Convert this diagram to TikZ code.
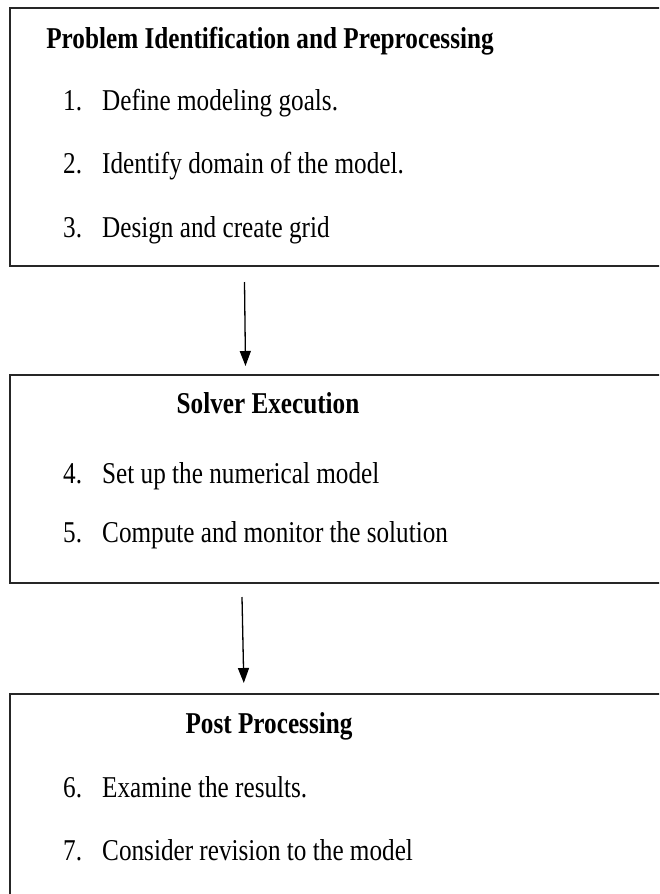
\documentclass[tikz,border=0pt]{standalone}
\usepackage{fontspec}
\setmainfont{Liberation Serif}
\usetikzlibrary{arrows.meta}
\newcommand{\tallt}[1]{\scalebox{1}[1.2]{#1}}
\begin{document}
\begin{tikzpicture}[x=1pt,y=-1pt,
  stagebox/.style={draw=black!85,line width=1.8pt,rectangle,inner sep=0pt,anchor=north west},
  titletext/.style={font=\fontsize{25.2}{30}\selectfont\bfseries,anchor=base,inner sep=0pt},
  itemnum/.style={font=\fontsize{25.2}{30}\selectfont,anchor=base west,inner sep=0pt},
  itemtext/.style={font=\fontsize{25.2}{30}\selectfont,anchor=base west,inner sep=0pt},
  arr/.style={line width=1.3pt,-{Triangle[width=11pt,length=15pt]}}]
\useasboundingbox (0,0) rectangle (659,894);
\clip (0,0) rectangle (659,894);
% boxes
\node[stagebox,minimum width=670pt,minimum height=258pt] (b1) at (9,7) {};
\node[stagebox,minimum width=670pt,minimum height=208pt] (b2) at (9,374) {};
\node[stagebox,minimum width=670pt,minimum height=230pt] (b3) at (9,693) {};
% box 1
\node[titletext] (t1) at (270,48) {\tallt{Problem Identification and Preprocessing}};
\node[itemnum] (n1) at (63,110) {\tallt{1.}};
\node[itemtext] (i1) at (102,110) {\tallt{Define modeling goals.}};
\node[itemnum] (n2) at (63,173) {\tallt{2.}};
\node[itemtext] (i2) at (102,173) {\tallt{Identify domain of the model.}};
\node[itemnum] (n3) at (63,237) {\tallt{3.}};
\node[itemtext] (i3) at (102,237) {\tallt{Design and create grid}};
% box 2
\node[titletext] (t2) at (268,413) {\tallt{Solver Execution}};
\node[itemnum] (n4) at (63,483) {\tallt{4.}};
\node[itemtext] (i4) at (102,483) {\tallt{Set up the numerical model}};
\node[itemnum] (n5) at (63,542) {\tallt{5.}};
\node[itemtext] (i5) at (102,542) {\tallt{Compute and monitor the solution}};
% box 3
\node[titletext] (t3) at (269,733) {\tallt{Post Processing}};
\node[itemnum] (n6) at (63,797) {\tallt{6.}};
\node[itemtext] (i6) at (102,797) {\tallt{Examine the results.}};
\node[itemnum] (n7) at (63,860) {\tallt{7.}};
\node[itemtext] (i7) at (102,860) {\tallt{Consider revision to the model}};
% arrows
\coordinate (a1s) at (244.5,282);
\coordinate (a1e) at (245.5,366);
\coordinate (a2s) at (242,597);
\coordinate (a2e) at (243.8,683);
\draw[arr] (a1s) -- (a1e);
\draw[arr] (a2s) -- (a2e);
\end{tikzpicture}
\end{document}
